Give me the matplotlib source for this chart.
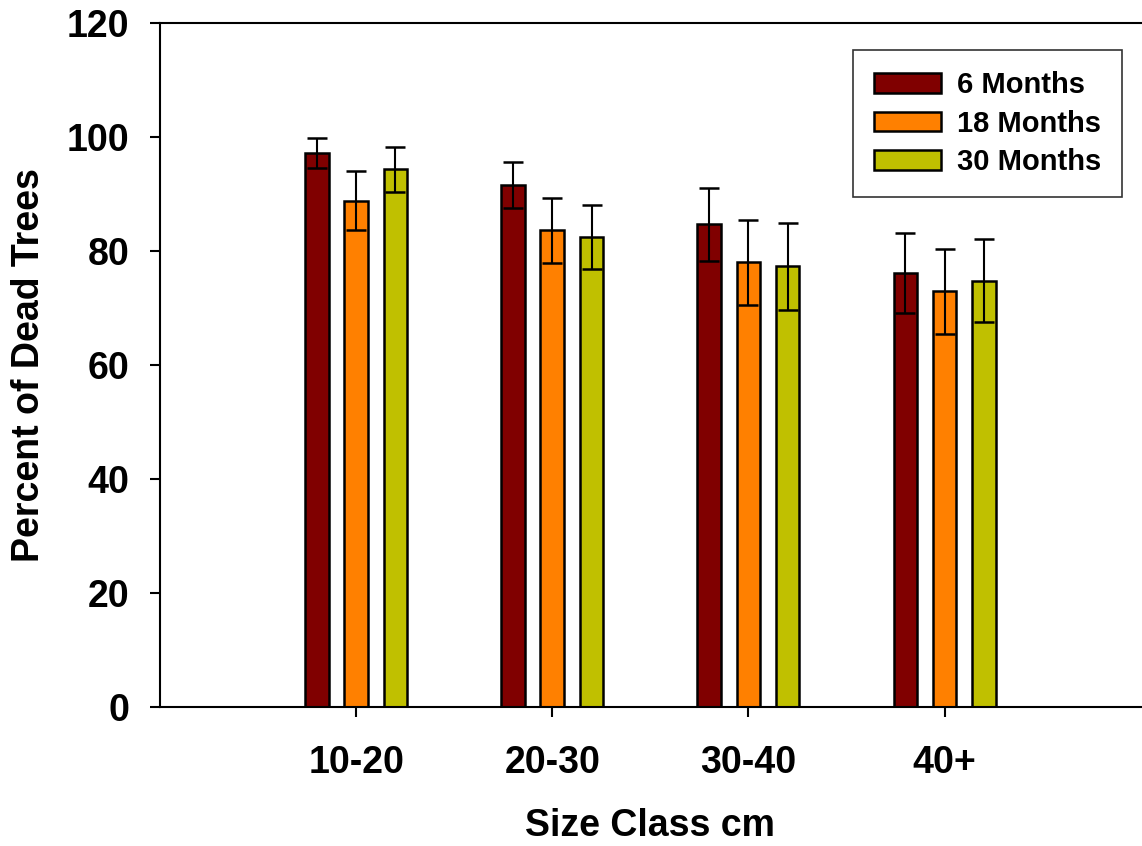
import numpy as np
import matplotlib.pyplot as plt

# data
size_classes = ["10-20", "20-30", "30-40", "40+"]
series_names = ["6 Months", "18 Months", "30 Months"]
dead_6 = [97.2, 91.6, 84.7, 76.2]
dead_18 = [88.8, 83.6, 78.0, 72.9]
dead_30 = [94.3, 82.5, 77.3, 74.8]
err_6 = [2.7, 4.0, 6.4, 7.0]
err_18 = [5.2, 5.7, 7.4, 7.4]
err_30 = [3.9, 5.6, 7.6, 7.3]
colors = ["#800000", "#FF8000", "#C0C000"]

plt.rcParams["font.family"] = ["Liberation Sans", "DejaVu Sans"]
plt.rcParams["font.weight"] = "bold"

fig = plt.figure(figsize=(11.42, 8.46), dpi=100)
ax = fig.add_axes([0.140, 0.1643, 0.859, 0.8085])

x = np.arange(len(size_classes))
offsets = [-0.2, 0.0, 0.2]
width = 0.12

for vals, errs, off, col, name in zip([dead_6, dead_18, dead_30],
                                      [err_6, err_18, err_30],
                                      offsets, colors, series_names):
    ax.bar(x + off, vals, width, color=col, edgecolor="black",
           linewidth=1.8, label=name, zorder=2)
    ax.errorbar(x + off, vals, yerr=errs, fmt="none", ecolor="black",
                elinewidth=1.5, capsize=7.2, capthick=1.8, zorder=3)

ax.set_xlim(-1, 4)
ax.set_ylim(0, 120)
ax.set_yticks([0, 20, 40, 60, 80, 100, 120])
ax.set_xticks(x)
ax.set_xticklabels(size_classes)

ax.tick_params(axis="both", direction="out", length=7, width=1.5,
               labelsize=27)
ax.tick_params(axis="x", pad=20)
ax.tick_params(axis="y", pad=15)
for t in ax.get_xticklabels() + ax.get_yticklabels():
    t.set_fontweight("bold")

for s in ["left", "bottom", "top"]:
    ax.spines[s].set_linewidth(1.5)
ax.spines["right"].set_visible(False)

ax.set_xlabel("Size Class cm", fontsize=27, fontweight="bold", labelpad=20)
ax.set_ylabel("Percent of Dead Trees", fontsize=27, fontweight="bold",
              labelpad=14)

leg = ax.legend(loc="upper right", bbox_to_anchor=(0.981, 0.960),
                fontsize=21, frameon=True, fancybox=False, shadow=False,
                handlelength=2.3, handleheight=0.65, handletextpad=0.55,
                labelspacing=0.36, borderpad=0.72, borderaxespad=0)
leg.get_frame().set_edgecolor("black")
leg.get_frame().set_linewidth(1.2)
for t in leg.get_texts():
    t.set_fontweight("bold")

fig.savefig("out.png", dpi=100)
